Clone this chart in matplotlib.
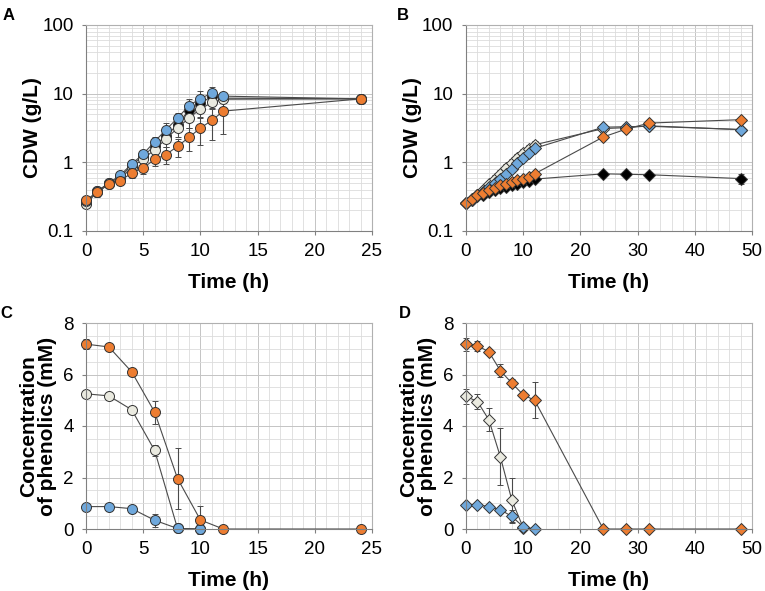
import numpy as np
import matplotlib
matplotlib.use("Agg")
import matplotlib.pyplot as plt
from matplotlib.ticker import MultipleLocator, LogLocator, NullFormatter, FuncFormatter

plt.rcParams['font.family'] = ['Liberation Sans', 'DejaVu Sans']

# colours of the four strains
c_orange = '#ED7D31'
c_blue = '#6FA8DC'
c_white = '#EAEAE0'
c_black = '#000000'

# ---- panel A : CDW, circles ----
tA = [0, 1, 2, 3, 4, 5, 6, 7, 8, 9, 10, 11, 12, 24]
A_black = [0.26, 0.38, 0.50, 0.61, 0.91, 1.23, 1.75, 2.44, 3.53, 5.8, 7.3, 9.1, 8.6, 8.4]
A_black_err = [0.02, 0.03, 0.03, 0.05, 0.08, 0.15, 0.25, 0.35, 0.5, 0.9, 1.2, 1.0, 0.8, 0.3]
A_white = [0.25, 0.37, 0.48, 0.57, 0.85, 1.12, 1.53, 2.19, 3.16, 4.41, 5.97, 7.45, 8.3, 8.4]
A_white_err = [0.02, 0.03, 0.03, 0.05, 0.08, 0.12, 0.2, 0.5, 0.8, 1.3, 1.5, 1.3, 0.5, 0.3]
A_blue = [0.27, 0.38, 0.50, 0.65, 0.95, 1.32, 2.0, 3.0, 4.4, 6.7, 8.5, 10.2, 9.2, 8.4]
A_blue_err = [0.02, 0.03, 0.04, 0.05, 0.1, 0.2, 0.3, 0.7, 0.9, 1.8, 2.5, 2.3, 0.8, 0.3]
A_orange = [0.28, 0.37, 0.48, 0.54, 0.70, 0.83, 1.10, 1.30, 1.71, 2.31, 3.16, 4.08, 5.57, 8.4]
A_orange_err = [0.02, 0.06, 0.05, 0.08, 0.1, 0.15, 0.22, 0.35, 0.5, 0.85, 1.4, 2.0, 3.0, 0.3]

# ---- panel B : CDW, diamonds ----
tB = [0, 1, 2, 3, 4, 5, 6, 7, 8, 9, 10, 11, 12, 24, 28, 32, 48]
B_black = [0.26, 0.28, 0.32, 0.34, 0.37, 0.39, 0.42, 0.44, 0.46, 0.48, 0.51, 0.54, 0.57, 0.68, 0.67, 0.66, 0.58]
B_black_err = [0.01, 0.01, 0.01, 0.02, 0.02, 0.02, 0.02, 0.02, 0.02, 0.03, 0.03, 0.03, 0.03, 0.05, 0.04, 0.06, 0.1]
B_white = [0.26, 0.29, 0.34, 0.40, 0.48, 0.57, 0.68, 0.82, 0.97, 1.15, 1.35, 1.58, 1.8, 3.1, 3.2, 3.4, 3.0]
B_white_err = [0.01, 0.02, 0.03, 0.04, 0.06, 0.08, 0.1, 0.12, 0.15, 0.17, 0.2, 0.22, 0.25, 0.2, 0.2, 0.2, 0.2]
B_blue = [0.26, 0.28, 0.33, 0.37, 0.44, 0.50, 0.58, 0.67, 0.80, 0.97, 1.17, 1.38, 1.6, 3.25, 3.3, 3.35, 3.0]
B_blue_err = [0.01, 0.01, 0.02, 0.02, 0.03, 0.04, 0.05, 0.06, 0.07, 0.08, 0.1, 0.1, 0.12, 0.2, 0.15, 0.15, 0.25]
B_orange = [0.26, 0.29, 0.33, 0.36, 0.39, 0.42, 0.46, 0.49, 0.52, 0.55, 0.58, 0.62, 0.68, 2.34, 3.05, 3.73, 4.18]
B_orange_err = [0.01, 0.01, 0.01, 0.02, 0.02, 0.02, 0.02, 0.02, 0.03, 0.03, 0.03, 0.03, 0.05, 0.25, 0.2, 0.2, 0.2]

# ---- panel C : phenolics, circles ----
tC_orange = [0, 2, 4, 6, 8, 10, 12, 24]
C_orange = [7.18, 7.07, 6.1, 4.54, 1.96, 0.35, 0, 0]
C_orange_err = [0.2, 0.1, 0.08, 0.45, 1.2, 0.55, 0, 0]
tC_white = [0, 2, 4, 6, 8, 10]
C_white = [5.25, 5.17, 4.63, 3.05, 0.02, 0]
C_white_err = [0.15, 0.15, 0.08, 0.2, 0, 0]
tC_blue = [0, 2, 4, 6, 8, 10]
C_blue = [0.87, 0.87, 0.79, 0.34, 0.02, 0]
C_blue_err = [0.05, 0.05, 0.05, 0.25, 0, 0]

# ---- panel D : phenolics, diamonds ----
tD_orange = [0, 2, 4, 6, 8, 10, 12, 24, 28, 32, 48]
D_orange = [7.18, 7.12, 6.88, 6.15, 5.67, 5.21, 5.0, 0, 0, 0, 0]
D_orange_err = [0.25, 0.2, 0.1, 0.25, 0.15, 0.1, 0.7, 0, 0, 0, 0]
tD_white = [0, 2, 4, 6, 8, 10]
D_white = [5.15, 4.95, 4.24, 2.81, 1.13, 0.05]
D_white_err = [0.3, 0.3, 0.45, 1.1, 0.85, 0.05]
tD_blue = [0, 2, 4, 6, 8, 10, 12]
D_blue = [0.95, 0.95, 0.87, 0.75, 0.49, 0.09, 0]
D_blue_err = [0.03, 0.03, 0.03, 0.05, 0.25, 0.05, 0]


def series(ax, t, y, err, color, marker, ms):
    ax.errorbar(t, y, yerr=err, fmt='-', color='#4a4a4a', lw=0.8,
                ecolor='#4a4a4a', elinewidth=0.8, capsize=2.5, capthick=0.8,
                marker=marker, markersize=ms, markerfacecolor=color,
                markeredgecolor='#333333', markeredgewidth=0.7, clip_on=False)


def style(ax):
    ax.grid(True, which='major', color='#c4c4c4', lw=0.7)
    ax.grid(True, which='minor', color='#dcdcdc', lw=0.6)
    ax.set_axisbelow(True)
    for s in ax.spines.values():
        s.set_color('#b0b0b0')
        s.set_linewidth(0.8)
    ax.spines['left'].set_color('#808080')
    ax.spines['bottom'].set_color('#808080')
    ax.tick_params(which='major', labelsize=13.5, length=3, color='#808080', pad=6)
    ax.tick_params(which='minor', length=0)
    ax.set_xlabel('Time (h)', fontsize=15, fontweight='bold', labelpad=9)


fig = plt.figure(figsize=(7.65, 5.91), dpi=100)
W, H = 765, 591
axes_px = {'A': (86, 25), 'B': (466, 25), 'C': (86, 323), 'D': (466, 323)}
ax = {}
for k, (l, t) in axes_px.items():
    ax[k] = fig.add_axes([l / W, 1 - (t + 206) / H, 286 / W, 206 / H])

log_fmt = FuncFormatter(lambda v, p: ('%g' % v))

# A
a = ax['A']
series(a, tA, A_black, A_black_err, c_black, 'o', 7.2)
series(a, tA, A_white, A_white_err, c_white, 'o', 7.2)
series(a, tA, A_blue, A_blue_err, c_blue, 'o', 7.2)
series(a, tA, A_orange, A_orange_err, c_orange, 'o', 7.2)
a.set_yscale('log')
a.set_ylim(0.1, 100)
a.set_xlim(0, 25)
a.xaxis.set_major_locator(MultipleLocator(5))
a.xaxis.set_minor_locator(MultipleLocator(1))
a.yaxis.set_major_formatter(log_fmt)
a.yaxis.set_minor_locator(LogLocator(subs=np.arange(2, 10)))
a.yaxis.set_minor_formatter(NullFormatter())
a.set_ylabel('CDW (g/L)', fontsize=15, fontweight='bold', labelpad=0)
style(a)

# B
b = ax['B']
series(b, tB, B_black, B_black_err, c_black, 'D', 5.8)
series(b, tB, B_white, B_white_err, c_white, 'D', 5.8)
series(b, tB, B_blue, B_blue_err, c_blue, 'D', 5.8)
series(b, tB, B_orange, B_orange_err, c_orange, 'D', 5.8)
b.set_yscale('log')
b.set_ylim(0.1, 100)
b.set_xlim(0, 50)
b.xaxis.set_major_locator(MultipleLocator(10))
b.xaxis.set_minor_locator(MultipleLocator(2))
b.yaxis.set_major_formatter(log_fmt)
b.yaxis.set_minor_locator(LogLocator(subs=np.arange(2, 10)))
b.yaxis.set_minor_formatter(NullFormatter())
b.set_ylabel('CDW (g/L)', fontsize=15, fontweight='bold', labelpad=0)
style(b)

# C
c = ax['C']
series(c, tC_white, C_white, C_white_err, c_white, 'o', 7.2)
series(c, tC_blue, C_blue, C_blue_err, c_blue, 'o', 7.2)
series(c, tC_orange, C_orange, C_orange_err, c_orange, 'o', 7.2)
c.set_ylim(0, 8)
c.set_xlim(0, 25)
c.xaxis.set_major_locator(MultipleLocator(5))
c.xaxis.set_minor_locator(MultipleLocator(1))
c.yaxis.set_major_locator(MultipleLocator(2))
c.yaxis.set_minor_locator(MultipleLocator(0.5))
c.set_ylabel('Concentration\nof phenolics (mM)', fontsize=15, fontweight='bold',
             labelpad=4, linespacing=1.0)
style(c)

# D
d = ax['D']
series(d, tD_white, D_white, D_white_err, c_white, 'D', 5.8)
series(d, tD_blue, D_blue, D_blue_err, c_blue, 'D', 5.8)
series(d, tD_orange, D_orange, D_orange_err, c_orange, 'D', 5.8)
d.set_ylim(0, 8)
d.set_xlim(0, 50)
d.xaxis.set_major_locator(MultipleLocator(10))
d.xaxis.set_minor_locator(MultipleLocator(2))
d.yaxis.set_major_locator(MultipleLocator(2))
d.yaxis.set_minor_locator(MultipleLocator(0.5))
d.set_ylabel('Concentration\nof phenolics (mM)', fontsize=15, fontweight='bold',
             labelpad=4, linespacing=1.0)
style(d)

# panel letters
for lab, (x, y) in {'A': (9, 15), 'B': (403, 15), 'C': (6, 313), 'D': (405, 313)}.items():
    fig.text(x / W, 1 - y / H, lab, fontsize=12, fontweight='bold', ha='center', va='center')

fig.savefig('out.png', dpi=100)
